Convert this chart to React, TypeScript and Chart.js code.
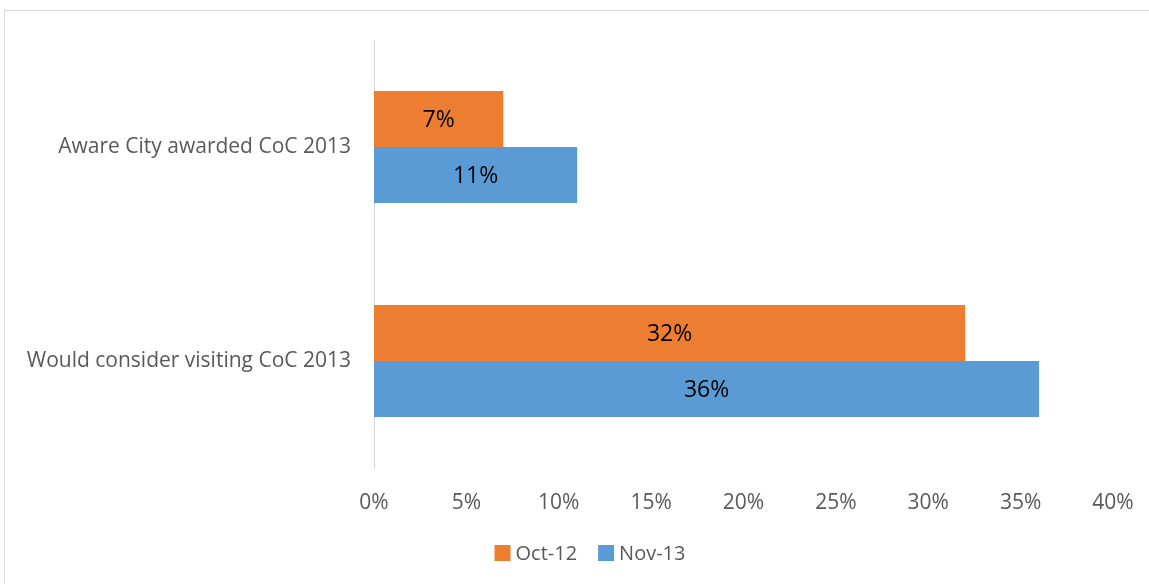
import React, { useEffect, useRef } from "react";
import { Chart, registerables } from "chart.js";

Chart.register(...registerables);

const categories = ["Aware City awarded CoC 2013", "Would consider visiting CoC 2013"];
const seriesNames = ["Oct-12", "Nov-13"];
const oct12 = [7, 32];
const nov13 = [11, 36];
const colors = ["#ED7D31", "#5B9BD5"];

const FONT = "'Open Sans', sans-serif";

const valueLabels = {
  id: "valueLabels",
  afterDatasetsDraw(chart: any) {
    const ctx = chart.ctx;
    ctx.save();
    ctx.font = `23px ${FONT}`;
    ctx.fillStyle = "#000000";
    ctx.textAlign = "center";
    ctx.textBaseline = "middle";
    chart.data.datasets.forEach((ds: any, di: number) => {
      const meta = chart.getDatasetMeta(di);
      meta.data.forEach((bar: any, i: number) => {
        const cx = (bar.x + bar.base) / 2;
        ctx.fillText(ds.data[i] + "%", cx, bar.y + 1);
      });
    });
    ctx.restore();
  },
};

const bottomLegend = {
  id: "bottomLegend",
  afterDraw(chart: any) {
    const ctx = chart.ctx;
    ctx.save();
    ctx.font = `20px ${FONT}`;
    ctx.textBaseline = "middle";
    ctx.textAlign = "left";
    const box = 16, gap = 5, spacing = 21;
    const items = chart.data.datasets.map((ds: any) => ({
      text: ds.label,
      color: ds.backgroundColor,
      w: ctx.measureText(ds.label).width,
    }));
    const total = items.reduce((a: number, it: any) => a + box + gap + it.w, 0) + spacing * (items.length - 1);
    let x = 590 - total / 2;
    const y = 553;
    items.forEach((it: any) => {
      ctx.fillStyle = it.color;
      ctx.fillRect(x, y - box / 2, box, box);
      x += box + gap;
      ctx.fillStyle = "#595959";
      ctx.fillText(it.text, x, y + 1);
      x += it.w + spacing;
    });
    ctx.restore();
  },
};

export default function App() {
  const ref = useRef<HTMLCanvasElement>(null);
  useEffect(() => {
    if (!ref.current) return;
    const chart = new Chart(ref.current, {
      type: "bar",
      data: {
        labels: categories,
        datasets: [
          { label: seriesNames[0], data: oct12, backgroundColor: colors[0], categoryPercentage: 0.523, barPercentage: 1 },
          { label: seriesNames[1], data: nov13, backgroundColor: colors[1], categoryPercentage: 0.523, barPercentage: 1 },
        ],
      },
      options: {
        indexAxis: "y",
        animation: false,
        responsive: false,
        layout: { padding: { top: 40, right: 36, left: 0, bottom: 54 } },
        scales: {
          x: {
            min: 0,
            max: 40,
            grid: { display: false, drawTicks: false },
            border: { display: false },
            ticks: {
              stepSize: 5,
              padding: 22,
              color: "#595959",
              font: { family: FONT, size: 21 },
              callback: (v: any) => v + "%",
            },
            afterFit: (s: any) => { s.height = 62; s.paddingRight = 0; s.paddingLeft = 0; },
          },
          y: {
            grid: { display: false, drawTicks: false },
            border: { display: true, color: "#d9d9d9", width: 1 },
            ticks: { padding: 23, color: "#595959", font: { family: FONT, size: 21 } },
            afterFit: (s: any) => { s.width = 374; s.paddingTop = 0; s.paddingBottom = 0; },
          },
        },
        plugins: {
          legend: { display: false },
          tooltip: { enabled: false },
        },
      },
      plugins: [valueLabels, bottomLegend],
    });
    return () => chart.destroy();
  }, []);
  return (
    <div style={{ position: "fixed", left: 0, top: 0, width: 1149, height: 584, background: "#fff", overflow: "hidden" }}>
      <div style={{ position: "absolute", left: 4, top: 10, width: 1200, height: 700, border: "1px solid #d9d9d9" }} />
      <canvas ref={ref} width={1149} height={584} style={{ position: "absolute", left: 0, top: 0 }} />
    </div>
  );
}
